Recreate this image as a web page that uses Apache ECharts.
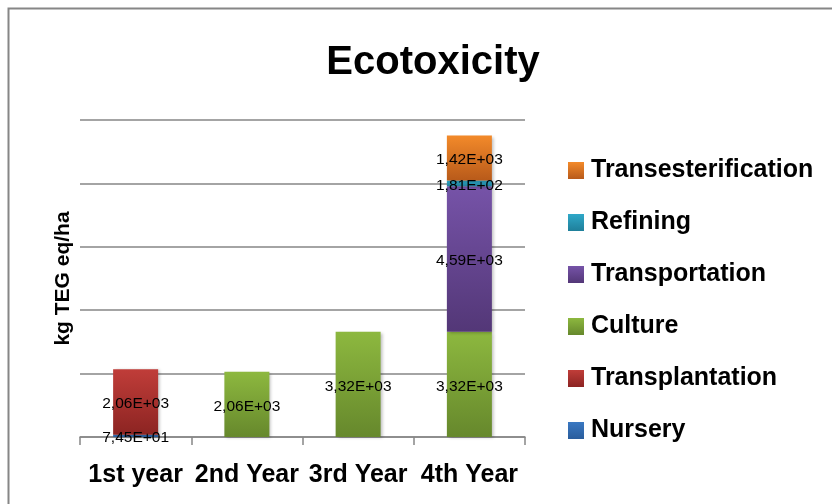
<!DOCTYPE html>
<html><head><meta charset="utf-8">
<script src="https://cdn.jsdelivr.net/npm/echarts@6/dist/echarts.min.js"></script>
<style>html,body{margin:0;padding:0;background:#fff}#c{width:832px;height:504px}</style>
</head><body><div id="c"></div>
<script>
const categories = ['1st year', '2nd Year', '3rd Year', '4th Year'];
const nursery = [74.5, null, null, null];
const transplantation = [2060, null, null, null];
const culture = [null, 2060, 3320, 3320];
const transportation = [null, null, null, 4590];
const refining = [null, null, null, 181];
const transesterification = [null, null, null, 1420];
const legendOrder = ['Transesterification', 'Refining', 'Transportation', 'Culture', 'Transplantation', 'Nursery'];

function grad(top, bottom) {
  return new echarts.graphic.LinearGradient(0, 0, 0, 1, [{offset: 0, color: top}, {offset: 1, color: bottom}]);
}
function fmt(p) {
  if (p.value == null) return '';
  const s = Number(p.value).toExponential(2);
  const [m, e] = s.split('e');
  const sign = e[0];
  const digits = e.slice(1).padStart(2, '0');
  return m.replace('.', ',') + 'E' + sign + digits;
}
const FONT = 'Liberation Sans';
function mk(name, data, c1, c2) {
  return {
    name, type: 'bar', stack: 'a', data, barWidth: 45,
    itemStyle: {color: grad(c1, c2), shadowBlur: 3, shadowColor: 'rgba(0,0,0,0.25)', shadowOffsetX: 2, shadowOffsetY: 1},
    label: {show: true, position: 'inside', offset: [0, 2], formatter: fmt, color: '#000', fontFamily: FONT, fontSize: 15.5},
    emphasis: {disabled: true}
  };
}
const chart = echarts.init(document.getElementById('c'), null, {renderer: 'canvas'});
chart.setOption({
  animation: false,
  backgroundColor: '#fff',
  title: {text: 'Ecotoxicity', left: 428, textAlign: 'center', top: 38,
    textStyle: {fontFamily: FONT, fontWeight: 'bold', fontSize: 40, color: '#000'}},
  legend: {orient: 'vertical', left: 568, top: 158, padding: 0, itemWidth: 16, itemHeight: 17, itemGap: 27,
    icon: 'rect', data: legendOrder,
    textStyle: {fontFamily: FONT, fontWeight: 'bold', fontSize: 25, color: '#000', padding: [0, 0, 0, 2]}},
  grid: {left: 80, right: 307, top: 120, bottom: 67},
  xAxis: {type: 'category', data: categories,
    axisLine: {lineStyle: {color: '#868686', width: 1.5}},
    axisTick: {show: true, length: 8, lineStyle: {color: '#868686', width: 1.5}},
    axisLabel: {fontFamily: FONT, fontWeight: 'bold', fontSize: 25, color: '#000', margin: 26, interval: 0}},
  yAxis: {type: 'value', min: 0, max: 10000, interval: 2000,
    name: 'kg TEG eq/ha', nameLocation: 'middle', nameRotate: 90, nameGap: 6,
    nameTextStyle: {fontFamily: FONT, fontWeight: 'bold', fontSize: 21, color: '#000'},
    axisLine: {show: false}, axisTick: {show: false}, axisLabel: {show: false},
    splitLine: {lineStyle: {color: '#868686', width: 1.5}}},
  graphic: [{type: 'rect', left: 6, top: 6, shape: {x: 0, y: 0, width: 900, height: 600},
    style: {fill: 'none', stroke: '#868686', lineWidth: 2}, silent: true}],
  series: [
    mk('Nursery', nursery, '#3A78C2', '#2A5D9C'),
    mk('Transplantation', transplantation, '#C03D39', '#8C2422'),
    mk('Culture', culture, '#8DB83F', '#66882C'),
    mk('Transportation', transportation, '#7653A8', '#533777'),
    mk('Refining', refining, '#2FA8C8', '#1F7F9A'),
    mk('Transesterification', transesterification, '#F38A2A', '#B85A1A')
  ]
});
</script></body></html>
